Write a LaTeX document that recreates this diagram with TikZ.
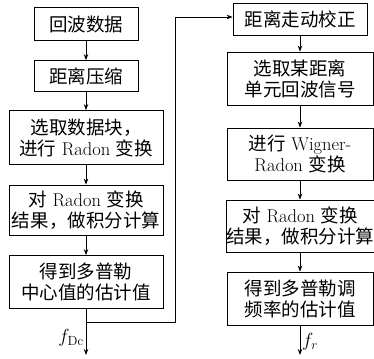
\RequirePackage{fix-cm}
\documentclass[tikz,border=0pt]{standalone}
\usepackage{fontspec}
\newfontfamily\cjk{Noto Sans CJK SC}
\usetikzlibrary{arrows.meta}
\newcommand{\zh}[1]{{\cjk #1}}
\begin{document}
\begin{tikzpicture}[x=1pt,y=-1pt,
  box/.style={draw, line width=0.8pt, inner sep=0pt, align=center, font=\fontsize{18.5}{21}\selectfont},
  arr/.style={-{Stealth[length=6pt,width=4.5pt]}, line width=0.8pt},
  lbl/.style={font=\fontsize{19}{21}\selectfont, inner sep=2pt}]
\useasboundingbox (0,0) rectangle (374,358);
% left column
\node[box, minimum width=104, minimum height=33] (b1) at (86,24) {\zh{回波数据}};
\node[box, minimum width=104, minimum height=31] (b2) at (86,76) {\zh{距离压缩}};
\node[box, minimum width=154, minimum height=54] (b3) at (86,137.5) {\zh{选取数据块，}\\\zh{进行} Radon \zh{变换}};
\node[box, minimum width=154, minimum height=50] (b4) at (86,210) {\zh{对} Radon \zh{变换}\\\zh{结果，做积分计算}};
\node[box, minimum width=154, minimum height=53] (b5) at (86,282) {\zh{得到多普勒}\\\zh{中心值的估计值}};
\coordinate (e1) at (86,355);
\coordinate (br) at (86,322);
\coordinate (c1) at (175,322);
\coordinate (c2) at (175,17);
% right column
\node[box, minimum width=134, minimum height=32] (r1) at (300,19) {\zh{距离走动校正}};
\node[box, minimum width=146, minimum height=53] (r2) at (300,78.5) {\zh{选取某距离}\\\zh{单元回波信号}};
\node[box, minimum width=146, minimum height=52] (r3) at (300,154) {\zh{进行} Wigner-\\Radon \zh{变换}};
\node[box, minimum width=146, minimum height=52] (r4) at (300,226) {\zh{对} Radon \zh{变换}\\\zh{结果，做积分计算}};
\node[box, minimum width=146, minimum height=53] (r5) at (300,298.5) {\zh{得到多普勒调}\\\zh{频率的估计值}};
\coordinate (e2) at (300,355);
% connectors
\draw[arr] (b1) -- (b2);
\draw[arr] (b2) -- (b3);
\draw[arr] (b3) -- (b4);
\draw[arr] (b4) -- (b5);
\draw[arr] (b5) -- (e1);
\draw[arr] (br) -- (c1) -- (c2) -- (c2 -| r1.west);
\draw[arr] (r1) -- (r2);
\draw[arr] (r2) -- (r3);
\draw[arr] (r3) -- (r4);
\draw[arr] (r4) -- (r5);
\draw[arr] (r5) -- (e2);
\node[lbl, anchor=east] (l1) at (86,338) {$f_{\mathrm{Dc}}$};
\node[lbl, anchor=west] (l2) at (300,342) {$f_r$};
\end{tikzpicture}
\end{document}
